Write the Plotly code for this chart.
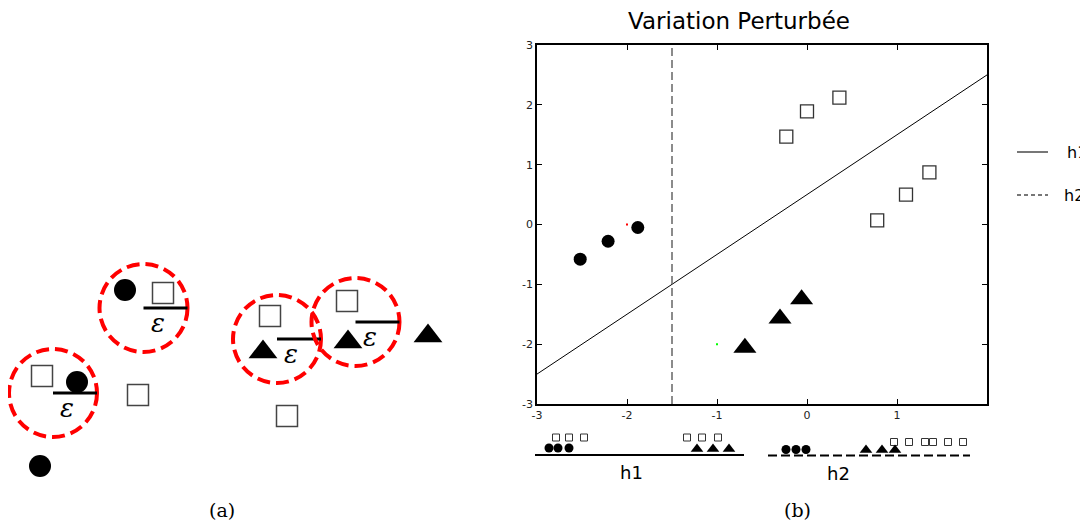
import plotly.graph_objects as go

# ---- panel (b): perturbed points and the two separators ----
CIRCLE_X = [-2.52, -2.21, -1.88]
CIRCLE_Y = [-0.58, -0.28, -0.05]
SQUARE_X = [-0.23, 0.0, 0.36, 0.78, 1.10, 1.36]
SQUARE_Y = [1.47, 1.89, 2.12, 0.07, 0.50, 0.87]
TRIANGLE_X = [-0.69, -0.30, -0.06]
TRIANGLE_Y = [-2.06, -1.57, -1.25]
H1_SLOPE, H1_INTERCEPT = 1.0, 0.5
H2_X = -1.5
X_RANGE = [-3, 2]
Y_RANGE = [-3, 3]
X_TICKS = [-3, -2, -1, 0, 1]
Y_TICKS = [-3, -2, -1, 0, 1, 2, 3]
STRAY_X = [-2.0, -1.0]
STRAY_Y = [0.0, -2.0]
STRAY_COLORS = ["red", "lime"]
LEGEND_NAMES = ["h1", "h2"]

# ---- panel (a): schematic (10 px units, y upward) ----
A_CIRCLE_X = [12.5, 7.7, 4.0]
A_CIRCLE_Y = [23.4, 14.2, 5.8]
A_SQUARE_X = [16.3, 4.2, 13.8, 27.0, 28.7, 34.7]
A_SQUARE_Y = [23.1, 14.8, 12.9, 20.8, 10.8, 22.3]
A_TRIANGLE_X = [26.3, 34.8, 42.8]
A_TRIANGLE_Y = [17.2, 18.2, 18.8]
BALL_X = [14.35, 5.3, 27.7, 35.55]
BALL_Y = [21.6, 13.1, 18.5, 20.2]
BALL_R = 4.4

# ---- projections onto h1 / h2 (strips below panel b) ----
P1_CIRCLE = [54.9, 55.8, 56.9]
P1_SQUARE = [55.6, 56.9, 58.4, 68.7, 70.2, 71.8]
P1_TRIANGLE = [69.7, 71.3, 72.9]
P1_LINE = [53.5, 74.4]
P2_CIRCLE = [78.6, 79.6, 80.6]
P2_SQUARE = [89.4, 90.9, 92.5, 93.3, 94.8, 96.3]
P2_TRIANGLE = [86.6, 88.2, 89.5]
P2_LINE = [76.8, 97.0]

FONT = "DejaVu Sans"
# the page body has an 8px margin, so the figure is 1080x516 placed at (8, 8)
W, H, OFF = 1080, 516, 8


def px(x):
    return (x - OFF) / W


def py(y):
    return 1 - (y - OFF) / H


fig = go.Figure()

# separators
fig.add_trace(go.Scatter(
    x=X_RANGE, y=[H1_SLOPE * v + H1_INTERCEPT for v in X_RANGE],
    mode="lines", line=dict(color="black", width=1), showlegend=False,
    hoverinfo="skip"))
fig.add_trace(go.Scatter(
    x=[H2_X, H2_X], y=Y_RANGE, mode="lines",
    line=dict(color="#666666", width=1.5, dash="8px,4px"),
    showlegend=False, hoverinfo="skip"))

fig.add_trace(go.Scatter(
    x=CIRCLE_X, y=CIRCLE_Y, mode="markers", showlegend=False,
    marker=dict(symbol="circle", size=13, color="black")))
fig.add_trace(go.Scatter(
    x=SQUARE_X, y=SQUARE_Y, mode="markers", showlegend=False,
    marker=dict(symbol="square-open", size=13, color="#333333",
                line=dict(width=1.3))))
fig.add_trace(go.Scatter(
    x=TRIANGLE_X, y=TRIANGLE_Y, mode="markers", showlegend=False,
    marker=dict(symbol="triangle-up", size=20, color="black")))
fig.add_trace(go.Scatter(
    x=STRAY_X, y=STRAY_Y, mode="markers", showlegend=False,
    marker=dict(symbol="square", size=2, color=STRAY_COLORS)))

# legend drawn by hand (the plotly legend gets clipped at the right edge)
for name, ly, lx, dash in [(LEGEND_NAMES[0], 152, 1065, "solid"),
                           (LEGEND_NAMES[1], 195, 1062, "4px,3px")]:
    fig.add_shape(type="line", xref="paper", yref="paper",
                  x0=px(1017), x1=px(1048), y0=py(ly), y1=py(ly),
                  line=dict(color="#777777", width=2, dash=dash))
    fig.add_annotation(x=px(lx), y=py(ly), xref="paper", yref="paper",
                       xanchor="left", yanchor="middle", text=name,
                       showarrow=False,
                       font=dict(family=FONT, size=16, color="black"))

# panel (a) + strips on an invisible overlay axis
ov = dict(xaxis="x2", yaxis="y2", showlegend=False, hoverinfo="skip")
fig.add_trace(go.Scatter(
    x=A_CIRCLE_X, y=A_CIRCLE_Y, mode="markers",
    marker=dict(symbol="circle", size=22, color="black"), **ov))
fig.add_trace(go.Scatter(
    x=A_SQUARE_X, y=A_SQUARE_Y, mode="markers",
    marker=dict(symbol="square-open", size=21, color="#444444",
                line=dict(width=1.5)), **ov))
fig.add_trace(go.Scatter(
    x=A_TRIANGLE_X, y=A_TRIANGLE_Y, mode="markers",
    marker=dict(symbol="triangle-up", size=25, color="black"), **ov))

for bx, by in zip(BALL_X, BALL_Y):
    fig.add_shape(type="circle", xref="x2", yref="y2",
                  x0=bx - BALL_R, x1=bx + BALL_R, y0=by - BALL_R, y1=by + BALL_R,
                  line=dict(color="#ff0000", width=4, dash="13px,6px"))
    fig.add_shape(type="line", xref="x2", yref="y2",
                  x0=bx, x1=bx + BALL_R, y0=by, y1=by,
                  line=dict(color="black", width=3))
    fig.add_annotation(x=bx + 1.4, y=by - 1.45, xref="x2", yref="y2",
                       text="<i>ε</i>", showarrow=False,
                       font=dict(family="DejaVu Serif", size=26, color="black"))

# projection strips
STRIP1_Y, STRIP2_Y = 6.9, 6.85
fig.add_shape(type="line", xref="x2", yref="y2", x0=P1_LINE[0], x1=P1_LINE[1],
              y0=STRIP1_Y, y1=STRIP1_Y, line=dict(color="black", width=2))
fig.add_shape(type="line", xref="x2", yref="y2", x0=P2_LINE[0], x1=P2_LINE[1],
              y0=STRIP2_Y, y1=STRIP2_Y,
              line=dict(color="black", width=2, dash="9px,4px"))

fig.add_trace(go.Scatter(
    x=P1_CIRCLE + P2_CIRCLE, y=[7.6] * 3 + [7.45] * 3, mode="markers",
    marker=dict(symbol="circle", size=9, color="black"), **ov))
fig.add_trace(go.Scatter(
    x=P1_SQUARE + P2_SQUARE, y=[8.65] * 6 + [8.2] * 6, mode="markers",
    marker=dict(symbol="square-open", size=7, color="#333333",
                line=dict(width=1)), **ov))
fig.add_trace(go.Scatter(
    x=P1_TRIANGLE + P2_TRIANGLE, y=[7.5] * 3 + [7.4] * 3, mode="markers",
    marker=dict(symbol="triangle-up", size=11, color="black"), **ov))

fig.add_annotation(x=63.1, y=5.2, xref="x2", yref="y2", text="h1",
                   showarrow=False, font=dict(family=FONT, size=18, color="black"))
fig.add_annotation(x=83.8, y=5.1, xref="x2", yref="y2", text="h2",
                   showarrow=False, font=dict(family=FONT, size=18, color="black"))

for lbl, lx in [("(a)", 222), ("(b)", 797)]:
    fig.add_annotation(x=px(lx), y=py(510), xref="paper", yref="paper",
                       xanchor="center", yanchor="middle",
                       text=lbl, showarrow=False,
                       font=dict(family="DejaVu Serif", size=19, color="black"))

axis_common = dict(showgrid=False, zeroline=False, showline=True,
                   linecolor="black", linewidth=1.5, mirror="ticks",
                   ticks="inside", ticklen=5, tickcolor="black",
                   tickfont=dict(family=FONT, size=11, color="#222222"))

fig.update_layout(
    width=W, height=H, showlegend=False,
    margin=dict(l=0, r=0, t=0, b=0, autoexpand=False),
    paper_bgcolor="white", plot_bgcolor="rgba(0,0,0,0)",
    title=dict(text="Variation Perturbée", x=px(739), y=py(21),
               xanchor="center", yanchor="middle",
               font=dict(family=FONT, size=23, color="black")),
    xaxis=dict(domain=[px(537), px(987)], range=X_RANGE,
               tickvals=X_TICKS, ticktext=[str(v) for v in X_TICKS],
               **axis_common),
    yaxis=dict(domain=[py(404), py(45)], range=Y_RANGE,
               tickvals=Y_TICKS, ticktext=[str(v) for v in Y_TICKS],
               **axis_common),
    xaxis2=dict(domain=[0, 1], range=[OFF / 10, (OFF + W) / 10], visible=False,
                anchor="y2", fixedrange=True),
    yaxis2=dict(domain=[0, 1], range=[0, H / 10], visible=False, anchor="x2",
                fixedrange=True),
)

fig.write_html("out.html")
